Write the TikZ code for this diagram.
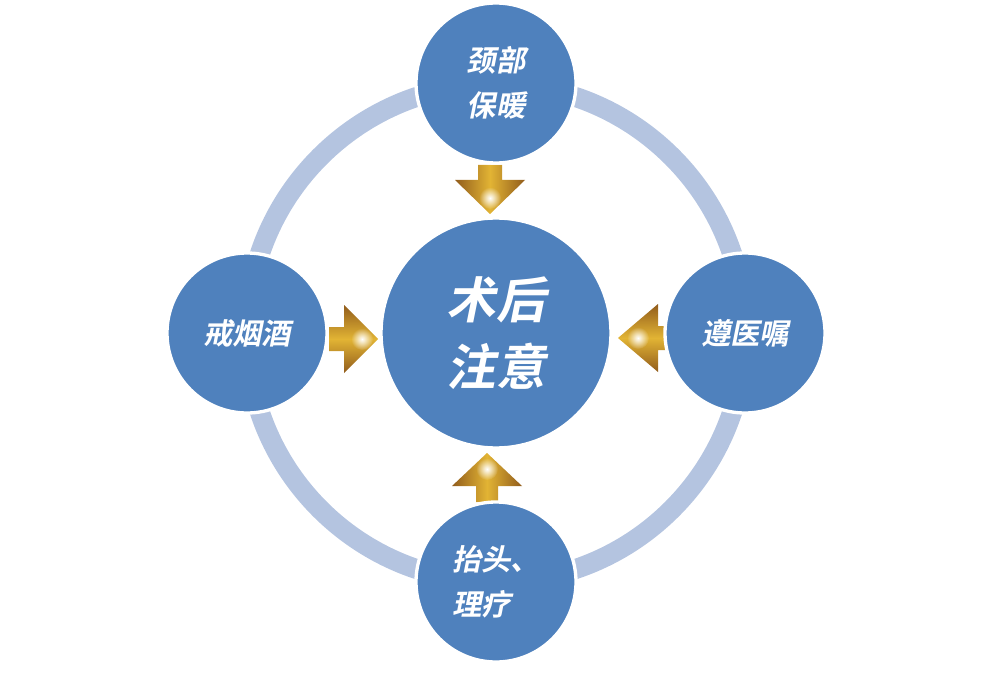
\documentclass[tikz,border=0pt]{standalone}
\usepackage{fontspec}
\usepackage{tikz}
\usetikzlibrary{fadings}
\newfontfamily\cjk[FakeSlant=0.2]{Noto Sans CJK SC Bold}
\definecolor{nodeblue}{RGB}{79,129,189}
\definecolor{ringblue}{RGB}{180,196,224}
\definecolor{golddark}{RGB}{145,92,28}
\definecolor{goldmid}{RGB}{226,180,52}
\tikzfading[name=glow, inner color=transparent!0, outer color=transparent!100]
\tikzset{bubble/.style = {circle, fill=nodeblue, draw=white, line width=2.5pt,
                          text=white, align=left, minimum size=120pt,
                          font=\cjk\fontsize{22}{34}\selectfont},
         hub/.style = {bubble, minimum size=172.5pt,
                       font=\cjk\fontsize{37}{50}\selectfont},
         goldv/.style = {left color=golddark, right color=golddark, middle color=goldmid},
         goldh/.style = {top color=golddark, bottom color=golddark, middle color=goldmid},
         shine/.style = {white, path fading=glow}}

\begin{document}
\begin{tikzpicture}[x=0.75pt, y=-0.75pt]
        \useasboundingbox (0,0) rectangle (992,681);
        % ring behind the circles
        \coordinate (mid) at (496,333);
        \draw[ringblue, line width=15pt] (mid) circle (249);
        % gold arrows pointing to the middle
        \shade[goldv] (490,214) -- ++(-35,-34) -- ++(23,0) -- ++(0,-15) -- ++(24,0) -- ++(0,15) -- ++(23,0) -- cycle;
        \shade[goldv] (487,453) -- ++(-35,33) -- ++(24,0) -- ++(0,16) -- ++(22,0) -- ++(0,-16) -- ++(24,0) -- cycle;
        \shade[goldh] (378,339) -- ++(-34,-34) -- ++(0,22) -- ++(-15,0) -- ++(0,24) -- ++(15,0) -- ++(0,22) -- cycle;
        \shade[goldh] (618,338) -- ++(40,-34) -- ++(0,22) -- ++(8,0) -- ++(0,24) -- ++(-8,0) -- ++(0,22) -- cycle;
        \fill[shine] (490,198) circle (11);
        \fill[shine] (487,469) circle (11);
        \fill[shine] (362,339) circle (11);
        \fill[shine] (638,338) circle (11);
        % circles
        \node[hub] (core) at (mid) {术后\\注意};
        \node[bubble] (neck) at (496,83) {颈部\\保暖};
        \node[bubble] (quit) at (247,333) {戒烟酒};
        \node[bubble] (obey) at (745,333) {遵医嘱};
        \node[bubble] (lift) at (496,582) {抬头、\\理疗};
\end{tikzpicture}
\end{document}
